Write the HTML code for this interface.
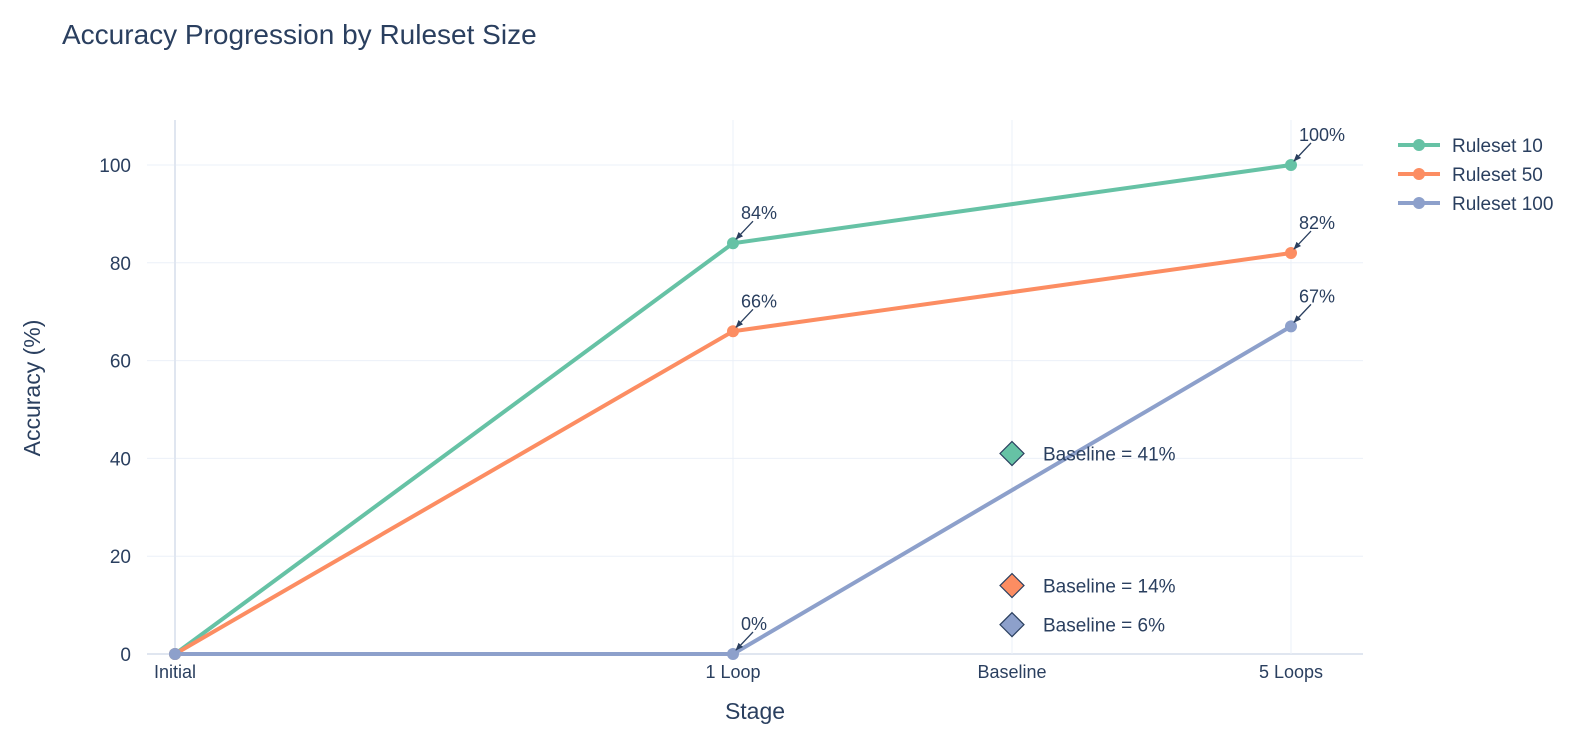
<!DOCTYPE html>
<html><head><meta charset="utf-8"><style>
body{margin:0;background:#fff;}
svg{display:block;font-family:"Liberation Sans",sans-serif;}
</style></head><body>
<svg id="chart" width="1596" height="746"></svg>
<script>
const stages=["Initial","1 Loop","Baseline","5 Loops"];
const stagePos=[0,2,3,4];
const seriesNames=["Ruleset 10","Ruleset 50","Ruleset 100"];
const seriesStages=["Initial","1 Loop","5 Loops"];
const r10=[0,84,100];
const r50=[0,66,82];
const r100=[0,0,67];
const baselines=[41,14,6];
const yTicks=[0,20,40,60,80,100];
const colors=["#66c2a5","#fc8d62","#8da0cb"];
const allSeries=[r10,r50,r100];
const NS="http://www.w3.org/2000/svg";
const svg=document.getElementById('chart');
const x0=175,x1=1291,y0=654,y1=165;
function xs(stage){const p=stagePos[stages.indexOf(stage)];return x0+(x1-x0)*p/4;}
function ys(v){return y0+(y1-y0)*v/100;}
function mk(tag,attrs,txt){const e=document.createElementNS(NS,tag);for(const k in attrs)e.setAttribute(k,attrs[k]);if(txt!==undefined)e.textContent=txt;svg.appendChild(e);return e;}
const defs=mk('defs',{});
defs.innerHTML='<marker id="ah" viewBox="0 0 10 10" refX="9" refY="5" markerWidth="6" markerHeight="6" orient="auto"><path d="M0,1 L10,5 L0,9 z" fill="#2a3f5f"/></marker>';
let t=mk('text',{x:62,y:44,'font-size':28,fill:'#2a3f5f'},'Accuracy Progression by Ruleset Size');

yTicks.forEach(v=>{
 const l=mk('line',{x1:147,x2:1363,y1:ys(v),y2:ys(v),stroke:v===0?'#e0e6f0':'#ebf0f8','stroke-width':v===0?2:1});
 
 const tt=mk('text',{x:131,y:ys(v)+7,'text-anchor':'end','font-size':19,fill:'#2a3f5f'},v);
 
});
stages.forEach(s=>{
 const l=mk('line',{x1:xs(s),x2:xs(s),y1:120,y2:654,stroke:s==='Initial'?'#e0e6f0':'#ebf0f8','stroke-width':s==='Initial'?2:1});
 
 const tt=mk('text',{x:xs(s),y:678,'text-anchor':'middle','font-size':18,fill:'#2a3f5f'},s);
 
});
t=mk('text',{x:755,y:719,'text-anchor':'middle','font-size':23,fill:'#2a3f5f'},'Stage');

t=mk('text',{x:40,y:388,'text-anchor':'middle','font-size':23,fill:'#2a3f5f',transform:'rotate(-90 40 388)'},'Accuracy (%)');

allSeries.forEach((d,i)=>{
 const pts=d.map((v,j)=>xs(seriesStages[j])+','+ys(v)).join(' ');
 const pl=mk('polyline',{points:pts,fill:'none',stroke:colors[i],'stroke-width':4});
 
});
allSeries.forEach((d,i)=>{
 d.forEach((v,j)=>{
  const c=mk('circle',{cx:xs(seriesStages[j]),cy:ys(v),r:6,fill:colors[i]});
  
 });
});
const ann=[[0,1],[0,2],[1,1],[1,2],[2,1],[2,2]];
ann.forEach(([i,j])=>{
 const v=allSeries[i][j],px=xs(seriesStages[j]),py=ys(v);
 const a=mk('line',{x1:px+20,y1:py-22,x2:px+3,y2:py-4,stroke:'#2a3f5f','stroke-width':1.3,'marker-end':'url(#ah)'});
 
 const tt=mk('text',{x:px+8,y:py-24,'font-size':18,fill:'#2a3f5f'},v+'%');
 
});
baselines.forEach((v,i)=>{
 const cx=xs('Baseline'),cy=ys(v);
 const d=mk('path',{d:`M${cx},${cy-12} L${cx+12},${cy} L${cx},${cy+12} L${cx-12},${cy} Z`,fill:colors[i],stroke:'#2a3f5f','stroke-width':1.2});
 
 const tt=mk('text',{x:cx+31,y:cy+7,'font-size':19,fill:'#2a3f5f'},'Baseline = '+v+'%');
 
});
seriesNames.forEach((n,i)=>{
 const y=145+29*i;
 const l=mk('line',{x1:1398,x2:1440,y1:y,y2:y,stroke:colors[i],'stroke-width':4});
 
 const c=mk('circle',{cx:1419,cy:y,r:6,fill:colors[i]});
 
 const tt=mk('text',{x:1452,y:y+7,'font-size':19,fill:'#2a3f5f'},n);
 
});
</script>
</body></html>
